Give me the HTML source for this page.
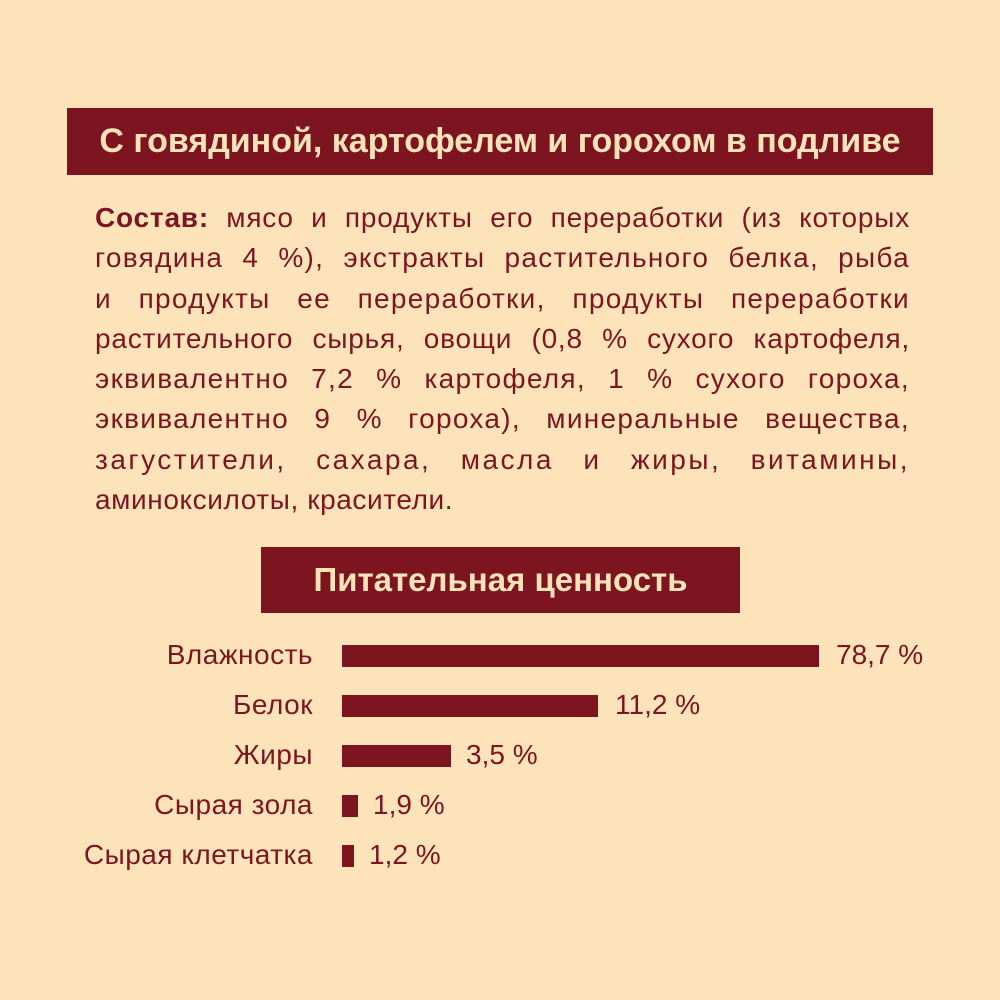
<!DOCTYPE html>
<html><head><meta charset="utf-8"><style>
body{margin:0;width:1000px;height:1000px;background:#FDE3BA;position:relative;font-family:"Liberation Sans","DejaVu Sans",sans-serif;color:#7D1520;overflow:hidden}
.h{position:absolute;background:#7D1520;color:#FDE3BA;font-weight:bold;text-align:center;white-space:nowrap}
.txt{position:absolute;left:95px;top:198px;width:815px;font-size:28px;line-height:40.3px;letter-spacing:1.3px}
.txt div{text-align:justify;text-align-last:justify;white-space:nowrap}
.txt div.l{text-align-last:left;letter-spacing:0.6px}
.lab{position:absolute;right:687px;font-size:28px;letter-spacing:0.5px;white-space:nowrap;text-align:right}
.bar{position:absolute;left:342px;height:22px;background:#7D1520}
.val{position:absolute;font-size:28px;white-space:nowrap}
</style></head><body>
<div class="h" style="left:67px;top:108px;width:866px;height:67px;line-height:67px;font-size:34px">С говядиной, картофелем и горохом в подливе</div>
<div class="txt">
<div style="letter-spacing:0.8px"><b>Состав:</b> мясо и продукты его переработки (из которых</div>
<div>говядина 4 %), экстракты растительного белка, рыба</div>
<div>и продукты ее переработки, продукты переработки</div>
<div style="letter-spacing:0.8px">растительного сырья, овощи (0,8 % сухого картофеля,</div>
<div>эквивалентно 7,2 % картофеля, 1 % сухого гороха,</div>
<div>эквивалентно 9 % гороха), минеральные вещества,</div>
<div style="letter-spacing:2.5px">загустители, сахара, масла и жиры, витамины,</div>
<div class="l">аминоксилоты, красители.</div>
</div>
<div class="h" style="left:261px;top:547px;width:479px;height:66px;line-height:66px;font-size:33px">Питательная ценность</div>
<div class="lab" style="top:639px">Влажность</div>
<div class="bar" style="top:645px;width:477px"></div><div class="val" style="left:836px;top:639px">78,7 %</div>
<div class="lab" style="top:689px">Белок</div>
<div class="bar" style="top:695px;width:256px"></div><div class="val" style="left:615px;top:689px">11,2 %</div>
<div class="lab" style="top:739px">Жиры</div>
<div class="bar" style="top:745px;width:109px"></div><div class="val" style="left:466px;top:739px">3,5 %</div>
<div class="lab" style="top:789px">Сырая зола</div>
<div class="bar" style="top:795px;width:16px"></div><div class="val" style="left:373px;top:789px">1,9 %</div>
<div class="lab" style="top:839px">Сырая клетчатка</div>
<div class="bar" style="top:845px;width:12px"></div><div class="val" style="left:369px;top:839px">1,2 %</div>
</body></html>
